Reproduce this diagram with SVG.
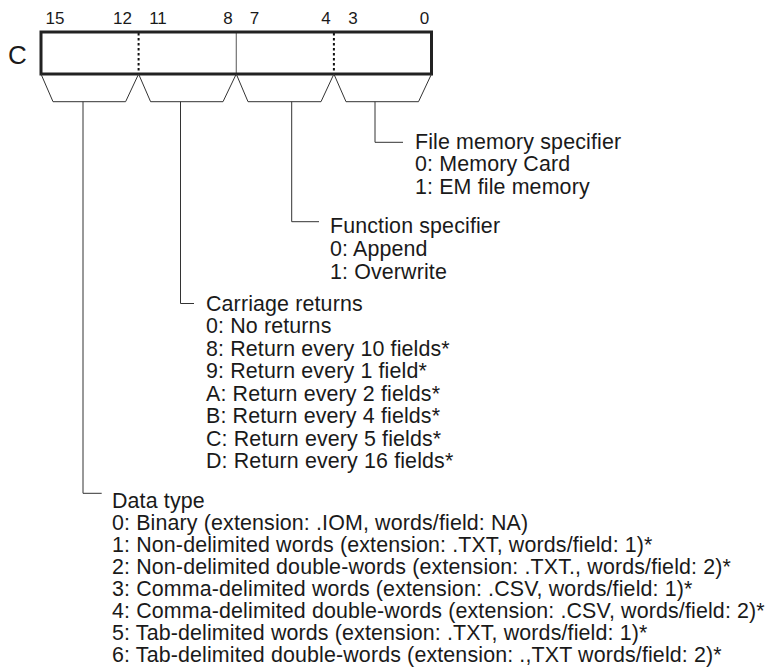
<svg xmlns="http://www.w3.org/2000/svg" width="771" height="667" viewBox="0 0 771 667">
<style>
.t{font-family:"Liberation Sans",Arial,Helvetica,sans-serif;font-size:21.4px;letter-spacing:0.14px;fill:#1a1a1a}
.d{font-family:"Liberation Sans",Arial,Helvetica,sans-serif;font-size:17px;fill:#1a1a1a;text-anchor:middle}
.c{font-family:"Liberation Sans",Arial,Helvetica,sans-serif;font-size:26px;fill:#1a1a1a}
.ln{fill:none;stroke:#333;stroke-width:1}
</style>
<rect width="771" height="667" fill="#fff"/>
<g id="register">
<text class="c" x="8" y="64">C</text>
<text class="d" x="55" y="24">15</text>
<text class="d" x="122.5" y="24">12</text>
<text class="d" x="158" y="24">11</text>
<text class="d" x="228" y="24">8</text>
<text class="d" x="254.5" y="24">7</text>
<text class="d" x="326" y="24">4</text>
<text class="d" x="353" y="24">3</text>
<text class="d" x="424.5" y="24">0</text>
<line x1="138.6" y1="33" x2="138.6" y2="73" stroke="#111" stroke-width="2" stroke-dasharray="2.5 2.5"/>
<line x1="236.25" y1="33" x2="236.25" y2="73" stroke="#555" stroke-width="1"/>
<line x1="333.9" y1="33" x2="333.9" y2="73" stroke="#111" stroke-width="2" stroke-dasharray="2.5 2.5"/>
<rect x="41" y="32" width="390.5" height="42" fill="none" stroke="#222" stroke-width="3"/>
</g>
<g id="connectors">
<polyline class="ln" points="41,74 53,101.7 125.6,101.7 138.6,74 150.6,101.7 223,101.7 236.25,74 248,101.7 321,101.7 333.9,74 346,101.7 418.5,101.7 431.5,74"/>
<polyline class="ln" points="375,101.7 375,142.3 403,142.3"/>
<polyline class="ln" points="291.7,101.7 291.7,221.7 319,221.7"/>
<polyline class="ln" points="180.5,101.7 180.5,303.5 194,303.5"/>
<polyline class="ln" points="83,101.7 83,493.3 101.7,493.3"/>
</g>
<g id="file-memory">
<text class="t" x="415" y="148.5">File memory specifier</text>
<text class="t" x="415" y="171.3">0: Memory Card</text>
<text class="t" x="415" y="194.1">1: EM file memory</text>
</g>
<g id="function">
<text class="t" x="330" y="233.3">Function specifier</text>
<text class="t" x="330" y="256.1">0: Append</text>
<text class="t" x="330" y="278.9">1: Overwrite</text>
</g>
<g id="carriage">
<text class="t" x="206" y="310.7">Carriage returns</text>
<text class="t" x="206" y="333.2">0: No returns</text>
<text class="t" x="206" y="355.7">8: Return every 10 fields*</text>
<text class="t" x="206" y="378.2">9: Return every 1 field*</text>
<text class="t" x="206" y="400.7">A: Return every 2 fields*</text>
<text class="t" x="206" y="423.2">B: Return every 4 fields*</text>
<text class="t" x="206" y="445.7">C: Return every 5 fields*</text>
<text class="t" x="206" y="468.2">D: Return every 16 fields*</text>
</g>
<g id="data-type">
<text class="t" x="112" y="507.5">Data type</text>
<text class="t" x="112" y="529.6">0: Binary (extension: .IOM, words/field: NA)</text>
<text class="t" x="112" y="551.7">1: Non-delimited words (extension: .TXT, words/field: 1)*</text>
<text class="t" x="112" y="573.8">2: Non-delimited double-words (extension: .TXT., words/field: 2)*</text>
<text class="t" x="112" y="595.9">3: Comma-delimited words (extension: .CSV, words/field: 1)*</text>
<text class="t" x="112" y="618">4: Comma-delimited double-words (extension: .CSV, words/field: 2)*</text>
<text class="t" x="112" y="640.1">5: Tab-delimited words (extension: .TXT, words/field: 1)*</text>
<text class="t" x="112" y="662.2">6: Tab-delimited double-words (extension: .,TXT words/field: 2)*</text>
</g>
</svg>
